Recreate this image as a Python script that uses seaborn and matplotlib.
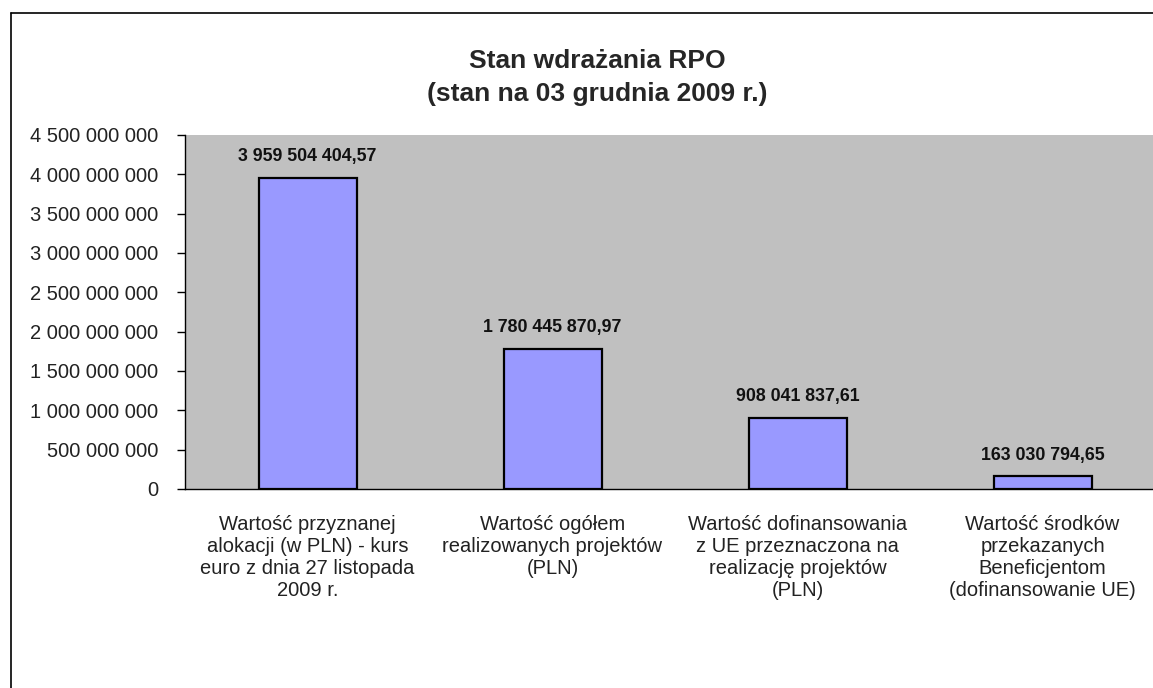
import numpy as np
import pandas as pd
import seaborn as sns
import matplotlib.pyplot as plt
from matplotlib.lines import Line2D

categories = [
    "Wartość przyznanej\nalokacji (w PLN) - kurs\neuro z dnia 27 listopada\n2009 r.",
    "Wartość ogółem\nrealizowanych projektów\n(PLN)",
    "Wartość dofinansowania\nz UE przeznaczona na\nrealizację projektów\n(PLN)",
    "Wartość środków\nprzekazanych\nBeneficjentom\n(dofinansowanie UE)",
]
values = [3959504404.57, 1780445870.97, 908041837.61, 163030794.65]
value_labels = ["3 959 504 404,57", "1 780 445 870,97", "908 041 837,61", "163 030 794,65"]
yticks = np.arange(0, 4.5e9 + 1, 5e8)

sns.set_style("white")
plt.rcParams["font.family"] = ["Liberation Sans", "DejaVu Sans"]

df = pd.DataFrame({"kat": categories, "wartosc": values})

fig = plt.figure(figsize=(11.53, 6.88), dpi=100)
ax = fig.add_axes([185 / 1153, 1 - 489 / 688, 980 / 1153, 354 / 688])
ax.set_facecolor("#C0C0C0")

sns.barplot(data=df, x="kat", y="wartosc", color="#9999FF", edgecolor="black",
            linewidth=1.6, width=0.4, saturation=1, ax=ax)

ax.set_xlim(-0.5, 3.5)
ax.set_ylim(0, 4.5e9)
ax.set_yticks(yticks)
ax.set_yticklabels([f"{int(t):,}".replace(",", " ") for t in yticks], fontsize=14.5, color="#222222")
ax.set_xlabel("")
ax.set_ylabel("")

ax.set_xticks(range(len(categories)))
ax.set_xticklabels(categories, fontsize=14.5, color="#222222", linespacing=1.2)
ax.set_xticks([-0.5, 0.5, 1.5, 2.5], minor=True)
ax.tick_params(axis="x", which="major", length=0, pad=19)
ax.tick_params(axis="x", which="minor", length=6, width=1, color="black", direction="out")
ax.tick_params(axis="y", length=6, width=1, color="black", direction="out", left=True, pad=13)

for s in ["top", "right"]:
    ax.spines[s].set_visible(False)
for s in ["left", "bottom"]:
    ax.spines[s].set_color("black")
    ax.spines[s].set_linewidth(1)

for i, (v, lab) in enumerate(zip(values, value_labels)):
    ax.annotate(lab, (i, v), xytext=(0, 9), textcoords="offset points",
                ha="center", va="bottom", fontsize=12.8, fontweight="bold", color="#111111")

fig.text(597 / 1153, 1 - 77.5 / 688, "Stan wdrażania RPO\n(stan na 03 grudnia 2009 r.)",
         ha="center", va="center", fontsize=19, fontweight="bold", linespacing=1.5)

# ramka wykresu (lewa i górna krawędź)
fig.add_artist(Line2D([11 / 1153, 11 / 1153], [0, 1 - 13 / 688], transform=fig.transFigure,
                      color="black", linewidth=1.2))
fig.add_artist(Line2D([11 / 1153, 1], [1 - 13 / 688, 1 - 13 / 688], transform=fig.transFigure,
                      color="black", linewidth=1.2))

fig.savefig("out.png", dpi=100)
